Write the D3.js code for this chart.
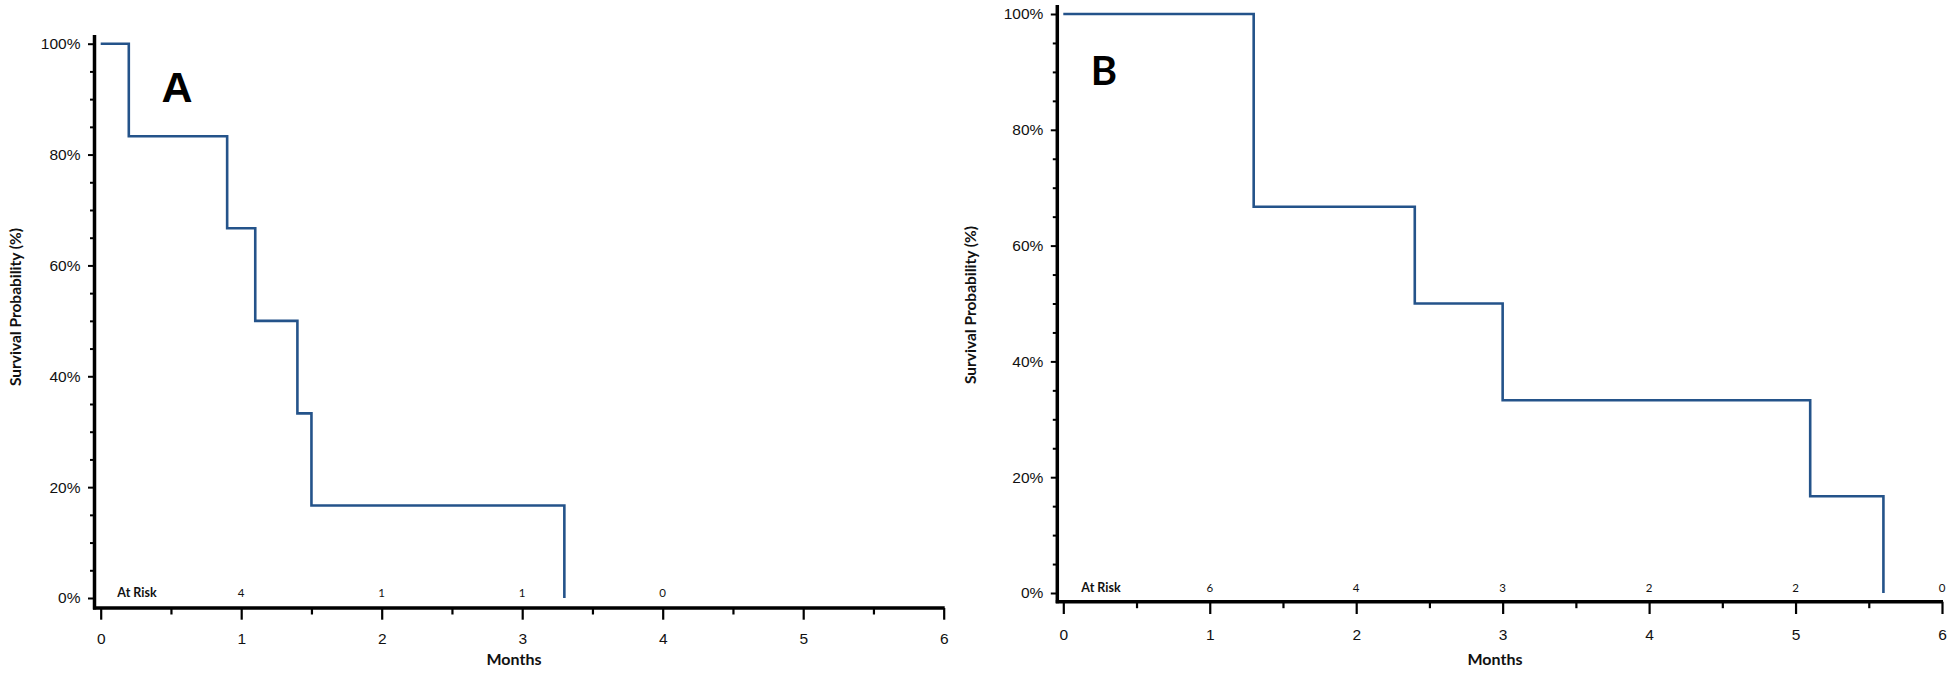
<!DOCTYPE html>
<html><head><meta charset="utf-8">
<script src="https://cdn.jsdelivr.net/npm/d3@7"></script>
<style>
html,body{margin:0;padding:0;background:#fff;}
svg{display:block;}
</style></head>
<body>
<svg id="chart" width="1950" height="674"></svg>
<script>
// ---- Data ----
const timesA = [0, 0.2, 0.9, 1.1, 1.4, 1.5, 3.3];
const survA  = [100, 83.3, 66.7, 50, 33.3, 16.7, 0];
const riskTimesA = [1, 2, 3, 4];
const riskCountsA = [4, 1, 1, 0];

const timesB = [0, 1.3, 2.4, 3.0, 5.1, 5.6];
const survB  = [100, 66.7, 50, 33.3, 16.7, 0];
const riskTimesB = [1, 2, 3, 4, 5, 6];
const riskCountsB = [6, 4, 3, 2, 2, 0];

const yMajorTicks = [0, 20, 40, 60, 80, 100];
const yMinorTicks = d3.range(0, 101, 5).filter(v => v % 20 !== 0);
const xMajorTicks = [0, 1, 2, 3, 4, 5, 6];
const xMinorTicks = [0.5, 1.5, 2.5, 3.5, 4.5, 5.5];

const LINE = "#24538a";
const svg = d3.select("#chart");

function panel(cfg) {
  const g = svg.append("g");
  const x = d3.scaleLinear().domain([0, 6]).range([cfg.x0, cfg.x6]);
  const y = d3.scaleLinear().domain([0, 100]).range([cfg.y0, cfg.y100]);

  // y axis
  const ya = g.append("g").attr("transform", `translate(${cfg.yAxisX},0)`)
    .call(d3.axisLeft(y).tickValues(yMajorTicks).tickSize(6.5).tickPadding(7.5).tickFormat(d => d + "%"));
  ya.select(".domain").remove();
  ya.selectAll("line").attr("stroke", "#000").attr("stroke-width", 2);
  ya.selectAll("text").attr("font-family", "Liberation Sans, Arial, sans-serif").attr("font-size", 15.5).attr("fill", "#111");
  const yam = g.append("g").attr("transform", `translate(${cfg.yAxisX},0)`)
    .call(d3.axisLeft(y).tickValues(yMinorTicks).tickSize(4.5).tickFormat(""));
  yam.select(".domain").remove();
  yam.selectAll("line").attr("stroke", "#000").attr("stroke-width", 2);

  // x axis
  const xa = g.append("g").attr("transform", `translate(0,${cfg.xAxisY})`)
    .call(d3.axisBottom(x).tickValues(xMajorTicks).tickSize(cfg.xTick).tickPadding(cfg.xPad).tickFormat(d3.format("d")));
  xa.select(".domain").remove();
  xa.selectAll("line").attr("stroke", "#000").attr("stroke-width", 2.2);
  xa.selectAll("text").attr("font-family", "Liberation Sans, Arial, sans-serif").attr("font-size", 15.5).attr("fill", "#111");
  const xam = g.append("g").attr("transform", `translate(0,${cfg.xAxisY})`)
    .call(d3.axisBottom(x).tickValues(xMinorTicks).tickSize(6.5).tickFormat(""));
  xam.select(".domain").remove();
  xam.selectAll("line").attr("stroke", "#000").attr("stroke-width", 2.2);

  // axis lines
  g.append("line").attr("x1", cfg.yAxisX).attr("x2", cfg.yAxisX)
    .attr("y1", cfg.yTop).attr("y2", cfg.xAxisY + 1.5)
    .attr("stroke", "#000").attr("stroke-width", 3.5);
  g.append("line").attr("x1", cfg.yAxisX - 1.5).attr("x2", x(6) + 1)
    .attr("y1", cfg.xAxisY).attr("y2", cfg.xAxisY)
    .attr("stroke", "#000").attr("stroke-width", 3.5);

  // survival curve
  const pts = cfg.times.map((t, i) => [t, cfg.surv[i]]);
  g.append("path").datum(pts)
    .attr("d", d3.line().x(d => x(d[0])).y(d => y(d[1])).curve(d3.curveStepAfter))
    .attr("fill", "none").attr("stroke", LINE).attr("stroke-width", 2.6);

  // at risk
  g.append("text").attr("x", cfg.atRiskX).attr("y", cfg.riskY)
    .attr("text-anchor", "middle").attr("font-family", "Lato, sans-serif")
    .attr("font-weight", "bold").attr("font-size", 12.5).attr("fill", "#111").text("At Risk");
  g.selectAll(".risk").data(cfg.riskTimes).enter().append("text")
    .attr("x", d => x(d)).attr("y", cfg.riskY)
    .attr("text-anchor", "middle").attr("font-family", "Lato, sans-serif")
    .attr("font-size", 11.5).attr("fill", "#111")
    .text((d, i) => cfg.riskCounts[i]);

  // titles
  g.append("text").attr("x", cfg.monthsX).attr("y", 665)
    .attr("text-anchor", "middle").attr("font-family", "Lato, sans-serif")
    .attr("font-weight", "bold").attr("font-size", 16).attr("fill", "#111").text("Months");
  g.append("text").attr("transform", `translate(${cfg.yTitleX},${cfg.yTitleY}) rotate(-90)`)
    .attr("text-anchor", "middle").attr("font-family", "Lato, sans-serif")
    .attr("font-weight", "bold").attr("font-size", 15.5).attr("fill", "#111").text("Survival Probability (%)");

  // panel letter
  g.append("text").attr("x", cfg.letterX).attr("y", cfg.letterY)
    .attr("text-anchor", "middle").attr("font-family", cfg.letterFont)
    .attr("font-weight", "bold").attr("font-size", cfg.letterSize).attr("fill", "#000").text(cfg.letter);
}

panel({
  times: timesA, surv: survA, riskTimes: riskTimesA, riskCounts: riskCountsA,
  x0: 100.7, x6: 943.7, y0: 598, y100: 43.7, yAxisX: 94.5, yTop: 35, xAxisY: 608,
  xTick: 11.7, xPad: 13, riskY: 597, atRiskX: 137, monthsX: 514,
  yTitleX: 20.5, yTitleY: 307, letter: "A", letterX: 177, letterY: 102,
  letterFont: "Liberation Sans, Arial, sans-serif", letterSize: 43
});
panel({
  times: timesB, surv: survB, riskTimes: riskTimesB, riskCounts: riskCountsB,
  x0: 1063.3, x6: 1942, y0: 593, y100: 14, yAxisX: 1057.3, yTop: 5, xAxisY: 601.7,
  xTick: 12.3, xPad: 15.5, riskY: 591.5, atRiskX: 1101, monthsX: 1495,
  yTitleX: 975.5, yTitleY: 305, letter: "B", letterX: 1104, letterY: 85,
  letterFont: "Lato, sans-serif", letterSize: 40
});
</script>
</body></html>
